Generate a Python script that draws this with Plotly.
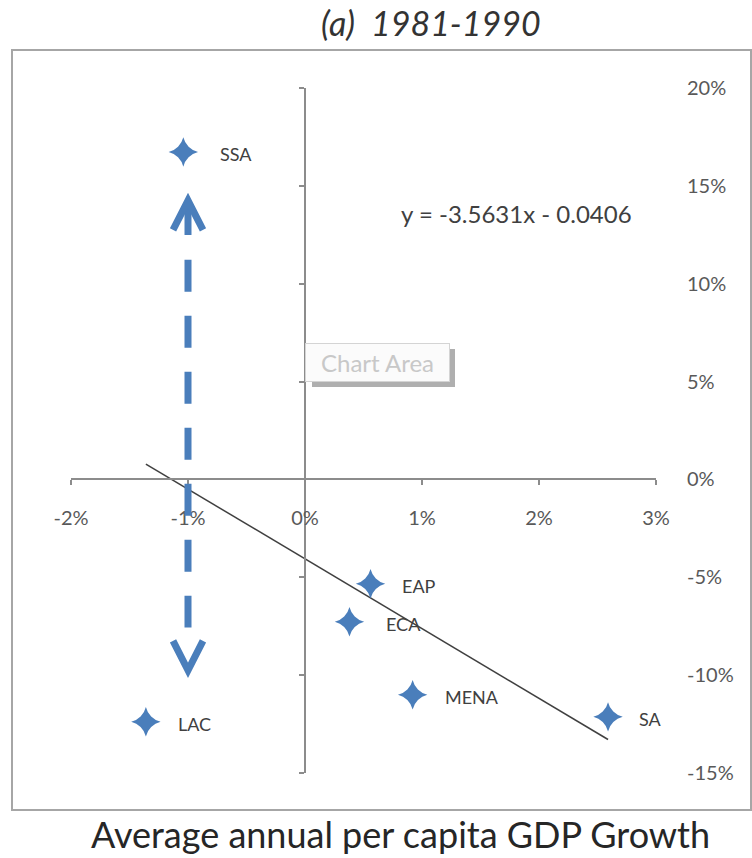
import plotly.graph_objects as go

# Regional averages, 1981-1990
regions = ["SSA", "EAP", "ECA", "MENA", "SA", "LAC"]
gdp_growth = [-0.0104, 0.0056, 0.0038, 0.0092, 0.0259, -0.0136]
outcome_change = [0.1673, -0.0533, -0.0727, -0.1100, -0.1213, -0.1238]

# Linear trend fitted across the regions
trend_slope = -3.5631
trend_intercept = -0.0406

x_tick_vals = [-0.02, -0.01, 0.0, 0.01, 0.02, 0.03]
x_tick_text = ["-2%", "-1%", "0%", "1%", "2%", "3%"]
y_tick_vals = [-0.15, -0.10, -0.05, 0.0, 0.05, 0.10, 0.15, 0.20]
y_tick_text = ["-15%", "-10%", "-5%", "0%", "5%", "10%", "15%", "20%"]

X_RANGE = [-0.02, 0.03]
Y_RANGE = [-0.15, 0.20]

W, H = 752, 858
L, R, T, B = 71, 96, 88, 85
PW, PH = W - L - R, H - T - B


def paper_x(p):
    return (p - L) / PW


def paper_y(p):
    return (H - B - p) / PH


BLUE = "#4a7ebb"
AXIS = "#8c8c8c"
TEXT = "#595959"
FONT = "Lato"

fig = go.Figure()

# trend line across the observed range
x_lo, x_hi = min(gdp_growth), max(gdp_growth)
fig.add_trace(go.Scatter(
    x=[x_lo, x_hi],
    y=[trend_slope * x_lo + trend_intercept, trend_slope * x_hi + trend_intercept],
    mode="lines", line=dict(color="#404040", width=1.5),
    hoverinfo="skip", showlegend=False,
))

fig.add_trace(go.Scatter(
    x=gdp_growth, y=outcome_change, mode="markers",
    marker=dict(symbol="star-diamond", size=21, color=BLUE, line=dict(width=0)),
    text=regions, hovertemplate="%{text}: %{x:.2%}, %{y:.2%}<extra></extra>",
    showlegend=False,
))

# region labels to the right of each marker
label_shift = {"SSA": 35, "EAP": 29, "ECA": 35, "MENA": 30, "SA": 29, "LAC": 30}
annotations = []
for name, gx, gy in zip(regions, gdp_growth, outcome_change):
    annotations.append(dict(
        x=gx, y=gy, xref="x", yref="y", text=name, showarrow=False,
        xanchor="left", yanchor="middle", xshift=label_shift[name], yshift=-2,
        font=dict(family=FONT, size=18, color="#404040"),
    ))

# trend equation
sign = "-" if trend_intercept < 0 else "+"
annotations.append(dict(
    x=paper_x(399), y=paper_y(213), xref="paper", yref="paper",
    text=f"y = {trend_slope:.4f}x {sign} {abs(trend_intercept):.4f}",
    showarrow=False, xanchor="left", yanchor="middle",
    font=dict(family=FONT, size=24, color="#404040"),
))

# panel title and x-axis caption
annotations.append(dict(
    x=paper_x(431), y=paper_y(22), xref="paper", yref="paper",
    text="<i>(a)  1981-1990</i>", showarrow=False, xanchor="center", yanchor="middle",
    font=dict(family=FONT, size=34, color="#333333"),
))
annotations.append(dict(
    x=paper_x(400), y=paper_y(834), xref="paper", yref="paper",
    text="Average annual per capita GDP Growth", showarrow=False,
    xanchor="center", yanchor="middle",
    font=dict(family=FONT, size=36, color="#262626"),
))

# "Chart Area" hover tip
annotations.append(dict(
    x=paper_x(305), y=paper_y(362), xref="paper", yref="paper",
    text="Chart Area", showarrow=False, xanchor="left", yanchor="middle",
    width=137, height=31, align="center",
    bgcolor="#fbfbfb", bordercolor="#d4d4d4", borderwidth=1, borderpad=3,
    font=dict(family=FONT, size=24, color="#c8c8c8"),
))

shapes = []
# chart-area frame
shapes.append(dict(
    type="rect", xref="paper", yref="paper",
    x0=paper_x(12), x1=paper_x(751), y0=paper_y(810), y1=paper_y(50),
    line=dict(color="#a6a6a6", width=2), fillcolor="rgba(0,0,0,0)", layer="below",
))
# soft shadow along the right and bottom edges of the hover tip
shapes.append(dict(
    type="rect", xref="paper", yref="paper",
    x0=paper_x(449), x1=paper_x(455), y0=paper_y(387), y1=paper_y(349),
    line=dict(width=0), fillcolor="rgba(110,110,110,0.55)", layer="above",
))
shapes.append(dict(
    type="rect", xref="paper", yref="paper",
    x0=paper_x(312), x1=paper_x(449), y0=paper_y(387), y1=paper_y(381),
    line=dict(width=0), fillcolor="rgba(110,110,110,0.55)", layer="above",
))

# dashed double-headed arrow at -1% growth
ARROW_X = -0.01
arrow_top, arrow_bottom = 0.1425, -0.0975
shaft_end = 0.1249
dash_top, dash_bottom = 0.1122, -0.0757
head_dx, head_dy = 0.00128, 0.0150
shapes.append(dict(type="line", xref="x", yref="y", x0=ARROW_X, x1=ARROW_X,
                   y0=arrow_top - 0.003, y1=shaft_end, line=dict(color=BLUE, width=7)))
shapes.append(dict(type="line", xref="x", yref="y", x0=ARROW_X, x1=ARROW_X,
                   y0=dash_top, y1=dash_bottom,
                   line=dict(color=BLUE, width=7, dash="32px,24px")))
shapes.append(dict(type="path", xref="x", yref="y",
                   path=(f"M {ARROW_X - head_dx},{arrow_top - head_dy} L {ARROW_X},{arrow_top} "
                         f"L {ARROW_X + head_dx},{arrow_top - head_dy}"),
                   line=dict(color=BLUE, width=7)))
shapes.append(dict(type="path", xref="x", yref="y",
                   path=(f"M {ARROW_X - head_dx},{arrow_bottom + head_dy} L {ARROW_X},{arrow_bottom} "
                         f"L {ARROW_X + head_dx},{arrow_bottom + head_dy}"),
                   line=dict(color=BLUE, width=7)))

x_cross = (0 - Y_RANGE[0]) / (Y_RANGE[1] - Y_RANGE[0])
y_cross = (0 - X_RANGE[0]) / (X_RANGE[1] - X_RANGE[0])

fig.update_layout(
    width=W, height=H, margin=dict(l=L, r=R, t=T, b=B, pad=0),
    paper_bgcolor="white", plot_bgcolor="white",
    xaxis=dict(
        range=X_RANGE, anchor="free", position=x_cross,
        tickvals=x_tick_vals, ticktext=x_tick_text,
        showline=True, linecolor=AXIS, linewidth=1.5,
        ticks="outside", ticklen=5, tickcolor=AXIS, tickwidth=1.5,
        ticklabelstandoff=16, showgrid=False, zeroline=False,
        tickfont=dict(family=FONT, size=20, color=TEXT),
    ),
    yaxis=dict(
        range=Y_RANGE, side="right", anchor="x",
        tickvals=y_tick_vals, ticktext=y_tick_text,
        showline=False, ticks="", ticklabelstandoff=30,
        showgrid=False, zeroline=False,
        tickfont=dict(family=FONT, size=20, color=TEXT),
    ),
    yaxis2=dict(
        range=Y_RANGE, overlaying="y", anchor="free", position=y_cross, side="left",
        tickvals=y_tick_vals, showticklabels=False,
        showline=True, linecolor=AXIS, linewidth=1.5,
        ticks="outside", ticklen=5, tickcolor=AXIS, tickwidth=1.5,
        showgrid=False, zeroline=False,
    ),
    annotations=annotations, shapes=shapes,
)

# invisible trace so the crossing y-axis is drawn
fig.add_trace(go.Scatter(x=[None], y=[None], yaxis="y2", showlegend=False, hoverinfo="skip"))

fig.write_html("out.html")
